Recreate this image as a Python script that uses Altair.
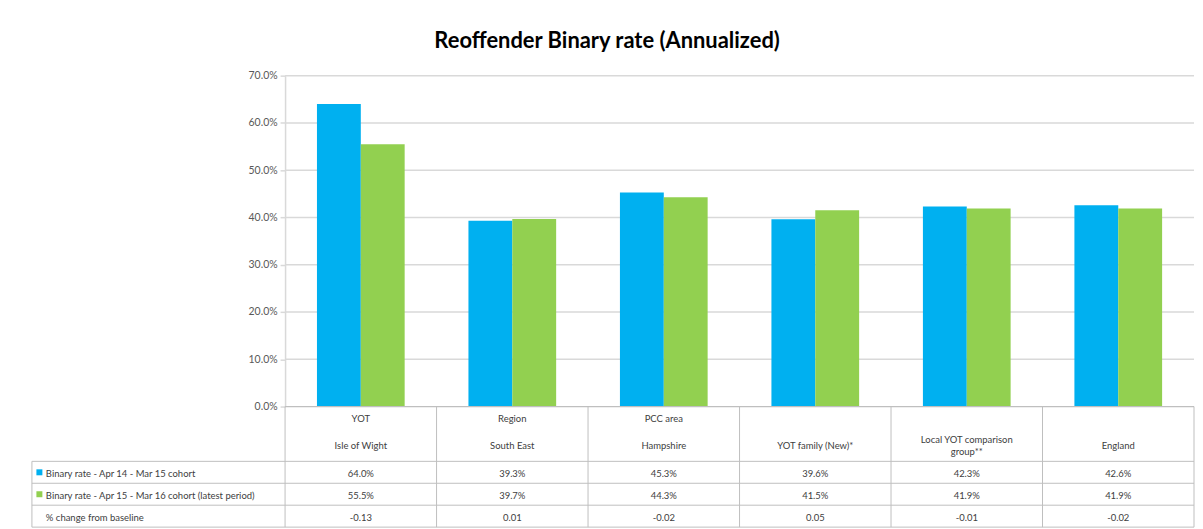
import altair as alt
import pandas as pd

# ---------------- data ----------------
group_labels = ["YOT", "Region", "PCC area", "", "", ""]
categories = ["Isle of Wight", "South East", "Hampshire", "YOT family (New)*",
              "Local YOT comparison\ngroup**", "England"]
series_names = ["Binary rate - Apr 14 - Mar 15 cohort",
                "Binary rate - Apr 15 - Mar 16 cohort (latest period)"]
change_name = "% change from baseline"
rate_apr14 = [64.0, 39.3, 45.3, 39.6, 42.3, 42.6]
rate_apr15 = [55.5, 39.7, 44.3, 41.5, 41.9, 41.9]
change_vals = ["-0.13", "0.01", "-0.02", "0.05", "-0.01", "-0.02"]
y_ticks = [0.0, 0.1, 0.2, 0.3, 0.4, 0.5, 0.6, 0.7]
colors = ["#00B0F0", "#92D050"]
title_text = "Reoffender Binary rate (Annualized)"

# ---------------- layout (pixels) ----------------
COL_W = 152.0
LABEL_W = 254.0
N = len(categories)
PLOT_W = int(LABEL_W + COL_W * N)
BAR_H = 332
TABLE_H = 121
ROW_PX = 22.0
L = LABEL_W / COL_W
BAR_HALF = 44.0 / COL_W
FONT = "Lato"
GRID = "#d9d9d9"
LINE = "#bfbfbf"
TXT = "#404040"
LINE_H = 12

xs = alt.Scale(domain=[-L, N], nice=False, zero=False)
ys = alt.Scale(domain=[0, 0.7], nice=False)
y_axis = alt.Axis(values=y_ticks, format=".1%", offset=-LABEL_W, grid=False,
                  domain=True, domainColor=GRID, domainWidth=1.5,
                  ticks=True, tickColor=GRID, tickSize=5, tickWidth=1.5,
                  labelColor="#595959", labelFont=FONT, labelFontSize=10.5,
                  labelPadding=3, title=None)


def yv(field="v"):
    return alt.Y(f"{field}:Q", scale=ys, axis=y_axis)


def xq(field):
    return alt.X(f"{field}:Q", scale=xs, axis=None)


# ---------------- bar panel ----------------
rows = []
for i, cat in enumerate(categories):
    for s, vals in enumerate([rate_apr14, rate_apr15]):
        x0 = i + 0.5 - BAR_HALF + s * BAR_HALF
        rows.append({"cat": cat, "series": series_names[s], "v": vals[i] / 100.0,
                     "x0": x0, "x1": x0 + BAR_HALF})
bars_df = pd.DataFrame(rows)

grid_df = pd.DataFrame({"v": y_ticks[1:], "x0": 0, "x1": N})
base_df = pd.DataFrame({"v": [0.0], "x0": [0], "x1": [N]})

grid = alt.Chart(grid_df).mark_rule(color=GRID, strokeWidth=1.5).encode(
    x=xq("x0"), x2="x1:Q", y=yv())

bars = alt.Chart(bars_df).mark_rect().encode(
    x=xq("x0"), x2="x1:Q", y=yv(), y2=alt.datum(0),
    color=alt.Color("series:N", scale=alt.Scale(domain=series_names, range=colors),
                    legend=None))

baseline = alt.Chart(base_df).mark_rule(color=LINE, strokeWidth=1.2).encode(
    x=xq("x0"), x2="x1:Q", y=yv())

top = alt.layer(grid, bars, baseline).properties(width=PLOT_W, height=BAR_H)

# ---------------- table panel ----------------
tys = alt.Scale(domain=[0, TABLE_H / ROW_PX], reverse=True, nice=False, zero=False)
TB = TABLE_H / ROW_PX


def yt(field="y"):
    return alt.Y(f"{field}:Q", scale=tys, axis=None)


h_df = pd.DataFrame({"y": [TB - 3, TB - 2, TB - 1, TB], "x0": -L, "x1": N})
v_df = pd.DataFrame({"x": list(range(N + 1)) + [-L],
                     "y0": [0.0] * (N + 1) + [TB - 3], "y1": [TB] * (N + 2)})

hlines = alt.Chart(h_df).mark_rule(color=LINE, strokeWidth=1).encode(
    x=xq("x0"), x2="x1:Q", y=yt())
vlines = alt.Chart(v_df).mark_rule(color=LINE, strokeWidth=1).encode(
    x=xq("x"), y=yt("y0"), y2="y1:Q")

cells = []
for i in range(N):
    nlines = categories[i].count("\n") + 1
    cells.append({"x": i + 0.5, "y": 0.5, "t": group_labels[i]})
    cells.append({"x": i + 0.5, "y": 1.75 - (nlines - 1) * LINE_H / 2 / ROW_PX,
                  "t": categories[i]})
    cells.append({"x": i + 0.5, "y": TB - 2.5, "t": f"{rate_apr14[i]:.1f}%"})
    cells.append({"x": i + 0.5, "y": TB - 1.5, "t": f"{rate_apr15[i]:.1f}%"})
    cells.append({"x": i + 0.5, "y": TB - 0.5, "t": change_vals[i]})
cells_df = pd.DataFrame(cells)

cell_text = alt.Chart(cells_df).mark_text(
    font=FONT, fontSize=9.5, color=TXT, align="center", baseline="middle",
    lineBreak="\n", lineHeight=LINE_H, dy=1.5).encode(
    x=xq("x"), y=yt(), text="t:N")

LBL_X = -L + 14.0 / COL_W
SQ_X = -L + 7.5 / COL_W
lab_df = pd.DataFrame({"x": LBL_X, "y": [TB - 2.5, TB - 1.5, TB - 0.5],
                       "t": series_names + [change_name]})
row_labels = alt.Chart(lab_df).mark_text(
    font=FONT, fontSize=9.5, color=TXT, align="left", baseline="middle",
    dy=1.5).encode(
    x=xq("x"), y=yt(), text="t:N")

sq_df = pd.DataFrame({"x": SQ_X, "y": [TB - 2.5, TB - 1.5], "series": series_names})
squares = alt.Chart(sq_df).mark_square(size=36, opacity=1).encode(
    x=xq("x"), y=yt(),
    color=alt.Color("series:N", scale=alt.Scale(domain=series_names, range=colors),
                    legend=None))

table = alt.layer(hlines, vlines, cell_text, row_labels, squares).properties(
    width=PLOT_W, height=TABLE_H)

chart = alt.vconcat(top, table, spacing=0, bounds="flush").properties(
    title=alt.TitleParams(title_text, font=FONT, fontSize=22, fontWeight="bold",
                          color="#000000", anchor="middle", offset=18, dx=-6),
    padding={"left": 23, "top": 21, "right": 0, "bottom": 0},
).configure_view(stroke=None).configure_concat(spacing=0)

chart.save("out.html", embed_options={"renderer": "svg", "actions": False})
